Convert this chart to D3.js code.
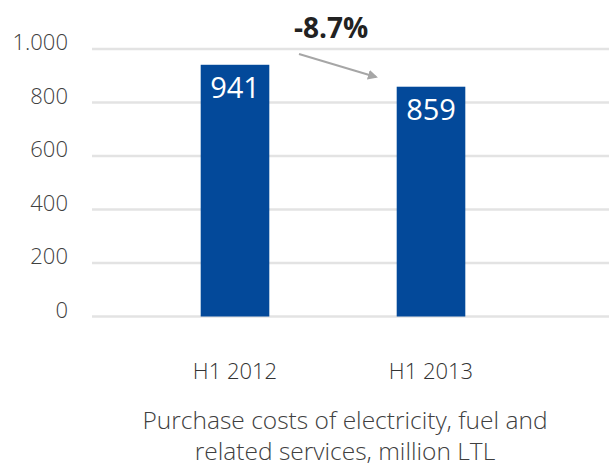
<!DOCTYPE html>
<html>
<head>
<meta charset="utf-8">
<script src="https://cdn.jsdelivr.net/npm/d3@7"></script>
<style>
html,body{margin:0;padding:0;background:#fff;}
svg{display:block;}
</style>
</head>
<body>
<svg id="chart" width="609" height="468"></svg>
<script>
const categories = ["H1 2012", "H1 2013"];
const values = [941, 859];
const tickValues = [0, 200, 400, 600, 800, 1000];
const tickLabels = ["0", "200", "400", "600", "800", "1.000"];
const changeLabel = "-8.7%";
const titleLines = ["Purchase costs of electricity, fuel and", "related services, million LTL"];

const svg = d3.select("#chart");
const font = "'Open Sans', 'Noto Sans', sans-serif";

const y = d3.scaleLinear().domain([0, 1000]).range([316.5, 49]);
const x = d3.scaleBand().domain(categories).range([137, 529]).paddingInner(0.65).paddingOuter(0.325);

// gridlines
svg.append("g").selectAll("line").data(tickValues).join("line")
  .attr("x1", 92).attr("x2", 609)
  .attr("y1", d => y(d)).attr("y2", d => y(d))
  .attr("stroke", "#e3e3e3").attr("stroke-width", 2.5);

// y tick labels
svg.append("g").selectAll("text").data(tickValues).join("text")
  .attr("x", 68).attr("y", d => y(d) + 1)
  .attr("text-anchor", "end")
  .attr("font-family", font).attr("font-size", 22).attr("font-weight", 300)
  .attr("fill", "#404040")
  .text((d, i) => tickLabels[i]);

// bars
svg.append("g").selectAll("rect").data(values).join("rect")
  .attr("x", (d, i) => x(categories[i]))
  .attr("width", x.bandwidth())
  .attr("y", d => y(d))
  .attr("height", d => y(0) - y(d))
  .attr("fill", "#03499a");

// value labels
svg.append("g").selectAll("text").data(values).join("text")
  .attr("x", (d, i) => x(categories[i]) + x.bandwidth() / 2)
  .attr("y", d => y(d) + 33)
  .attr("text-anchor", "middle")
  .attr("font-family", font).attr("font-size", 29).attr("font-weight", 400)
  .attr("fill", "#fff")
  .text(d => d);

// category labels
svg.append("g").selectAll("text").data(categories).join("text")
  .attr("x", d => x(d) + x.bandwidth() / 2)
  .attr("y", 379)
  .attr("text-anchor", "middle")
  .attr("font-family", font).attr("font-size", 22).attr("font-weight", 300)
  .attr("fill", "#333")
  .text(d => d);

// change annotation
svg.append("defs").append("marker")
  .attr("id", "arr").attr("viewBox", "0 0 10 10")
  .attr("refX", 8).attr("refY", 5)
  .attr("markerWidth", 5).attr("markerHeight", 5)
  .attr("orient", "auto")
  .append("path").attr("d", "M0,0 L10,5 L0,10 Z").attr("fill", "#a6a6a6");

svg.append("line")
  .attr("x1", 299).attr("y1", 54)
  .attr("x2", 376).attr("y2", 77)
  .attr("stroke", "#a6a6a6").attr("stroke-width", 2)
  .attr("marker-end", "url(#arr)");

svg.append("text")
  .attr("x", 331).attr("y", 38)
  .attr("text-anchor", "middle")
  .attr("font-family", font).attr("font-size", 28).attr("font-weight", "bold")
  .attr("fill", "#222")
  .text(changeLabel);

// title
svg.append("g").selectAll("text").data(titleLines).join("text")
  .attr("x", 345)
  .attr("y", (d, i) => 429 + i * 31)
  .attr("text-anchor", "middle")
  .attr("font-family", font).attr("font-size", 24.5).attr("font-weight", 300)
  .attr("fill", "#404040")
  .text(d => d);
</script>
</body>
</html>
